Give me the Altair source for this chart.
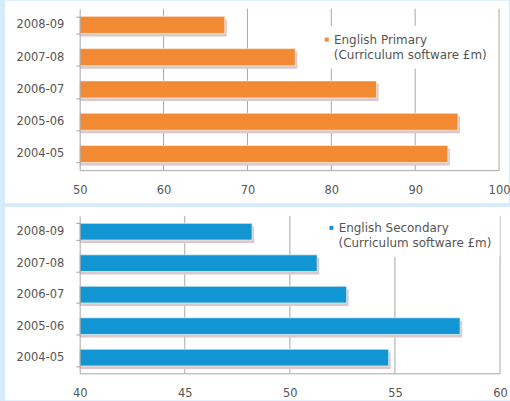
import altair as alt
import pandas as pd

years = ["2008-09", "2007-08", "2006-07", "2005-06", "2004-05"]
primary = [67.3, 75.7, 85.4, 95.1, 93.9]
secondary = [48.2, 51.3, 52.7, 58.1, 54.7]
primary_ticks = [50, 60, 70, 80, 90, 100]
secondary_ticks = [40, 45, 50, 55, 60]
primary_name = "English Primary"
secondary_name = "English Secondary"
unit_note = "(Curriculum software £m)"

ORANGE = "#f28a33"
BLUE = "#1296d3"
FONT = "DejaVu Sans"
TEXT = "#555555"
GRID = "#a8a8a8"
FS = 11.5
LFS = 12


def panel(values, ticks, name, color, width, height, bg_y, legend_xy):
    df = pd.DataFrame({"year": years, "value": values, "base": [ticks[0]] * len(years),
                       "series": [name] * len(years)})
    grid_df = pd.DataFrame({"value": ticks[1:]})
    xscale = alt.Scale(domain=[ticks[0], ticks[-1]], zero=False, nice=False)
    yscale = alt.Scale(paddingInner=0.47, paddingOuter=0.235)
    x_axis = alt.Axis(values=ticks, title=None, ticks=False, labelPadding=14, grid=False,
                      domainColor=GRID, labelFont=FONT, labelFontSize=FS, labelColor=TEXT,
                      labelFlush=False, zindex=1)
    y_axis = alt.Axis(title=None, tickBand="extent", tickSize=4, labelPadding=12, grid=False,
                      domainColor=GRID, tickColor=GRID, labelFont=FONT, labelFontSize=FS,
                      labelColor=TEXT, zindex=1)
    xenc = alt.X("value:Q", scale=xscale, axis=x_axis)
    yenc = alt.Y("year:N", scale=yscale, sort=years, axis=y_axis)

    bg = alt.Chart(pd.DataFrame({"k": [0]})).mark_rect(color="white").encode(
        x=alt.value(-75), x2=alt.value(width + 10), y=alt.value(bg_y[0]), y2=alt.value(bg_y[1]))
    grid = alt.Chart(grid_df).mark_rule(color=GRID, strokeWidth=1).encode(x=xenc)
    shadow = alt.Chart(df).mark_bar(color="#dcc8c8", xOffset=2, yOffset=3).encode(
        x=xenc, x2="base:Q", y=yenc)
    bars = alt.Chart(df).mark_bar(stroke="white", strokeOpacity=0.6, strokeWidth=1).encode(
        x=xenc, x2="base:Q", y=yenc,
        color=alt.Color("series:N", scale=alt.Scale(domain=[name], range=[color]),
                        legend=alt.Legend(orient="none", legendX=legend_xy[0], legendY=legend_xy[1],
                                          title="\u200b\u2003\u200a" + unit_note, titleOrient="bottom",
                                          titleFontWeight="normal", titleFont=FONT, titleFontSize=LFS,
                                          titleColor=TEXT, titlePadding=4, labelFont=FONT,
                                          labelFontSize=LFS, labelColor=TEXT, symbolType="square",
                                          symbolSize=16, symbolStrokeWidth=0, labelOffset=1.3,
                                          fillColor="white", padding=8, zindex=1)))
    return alt.layer(bg, grid, shadow, bars).properties(width=width, height=height)


top = panel(primary, primary_ticks, primary_name, ORANGE, 421, 162, (-8, 195), (234, 17))
bottom = panel(secondary, secondary_ticks, secondary_name, BLUE, 422, 158, (-9, 185), (238.7, -2))

chart = alt.vconcat(top, bottom, spacing=4).resolve_scale(
    color="independent", x="independent", y="independent"
).properties(
    padding={"left": 5, "top": 0, "right": 0, "bottom": 0}
).configure(background="#d6ecfa").configure_view(strokeWidth=0)

chart.save("out.html", embed_options={"renderer": "svg", "actions": False})
